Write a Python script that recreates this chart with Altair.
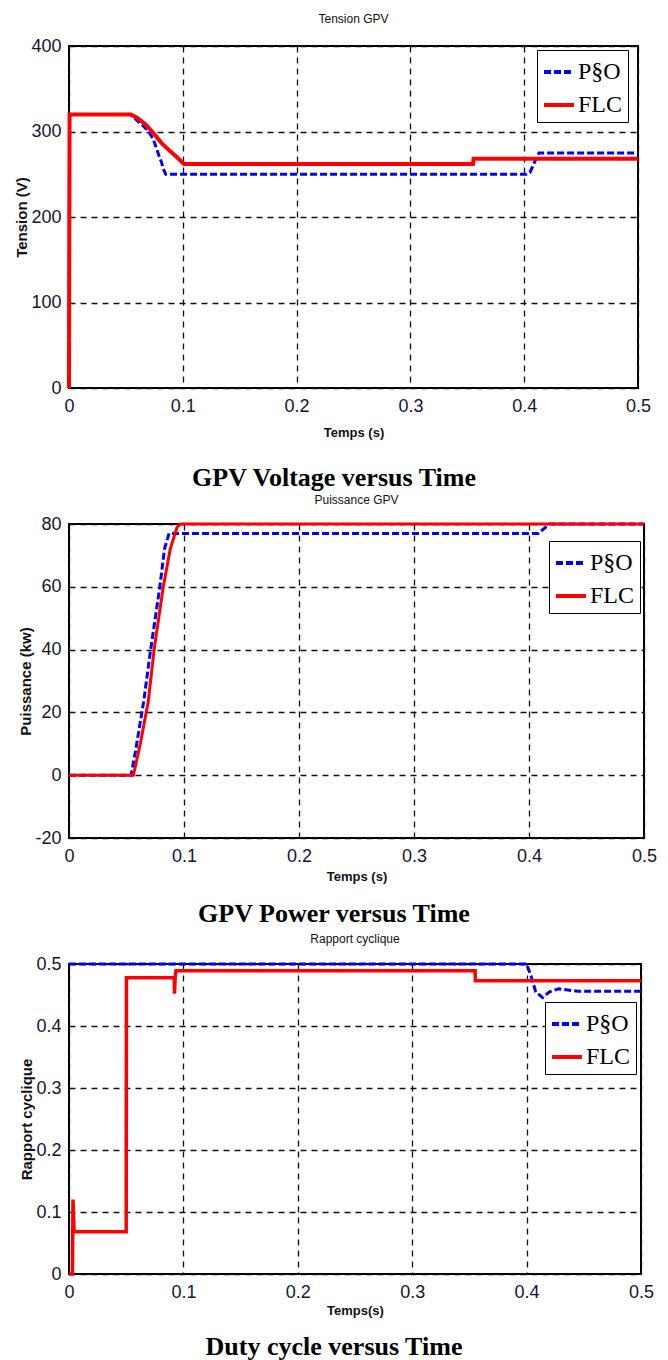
import altair as alt
import pandas as pd

SERIES = ["P§O", "FLC"]
COLORS = ["#0000ff", "#ff0000"]
X_TICKS = [0, 0.1, 0.2, 0.3, 0.4, 0.5]

# Panel 1 : Tension GPV
t1_po = [0, 0.0005, 0.054, 0.059, 0.064, 0.070, 0.074, 0.077, 0.079, 0.081, 0.083, 0.085, 0.402, 0.405, 0.409, 0.413, 0.5]
v1_po = [0, 320, 320, 314, 308, 300, 291, 280, 272, 265, 256, 250, 250, 252, 264, 275, 275]
t1_flc = [0, 0.0005, 0.054, 0.060, 0.0675, 0.075, 0.0816, 0.088, 0.094, 0.101, 0.355, 0.3555, 0.5]
v1_flc = [0, 320, 320, 316, 308, 297, 286, 278, 271, 262, 262, 268, 268]
y1_ticks = [0, 100, 200, 300, 400]

# Panel 2 : Puissance GPV
t2_po = [0, 0.054, 0.058, 0.065, 0.071, 0.079, 0.083, 0.087, 0.408, 0.413, 0.418, 0.5]
v2_po = [0, 0, 8, 23.6, 40, 60, 72, 77, 77, 78.5, 80, 80]
t2_flc = [0, 0.056, 0.062, 0.069, 0.074, 0.082, 0.088, 0.094, 0.097, 0.5]
v2_flc = [0, 0, 10, 23.6, 40, 60, 72, 79, 80, 80]
y2_ticks = [-20, 0, 20, 40, 60, 80]

# Panel 3 : Rapport cyclique
t3_po = [0, 0.400, 0.404, 0.408, 0.414, 0.420, 0.428, 0.445, 0.5]
v3_po = [0.5, 0.5, 0.48, 0.455, 0.446, 0.455, 0.46, 0.456, 0.456]
t3_flc = [0, 0.003, 0.0035, 0.0045, 0.05, 0.0502, 0.092, 0.0922, 0.0928, 0.0935, 0.355, 0.3552, 0.5]
v3_flc = [0, 0, 0.12, 0.068, 0.068, 0.478, 0.478, 0.452, 0.478, 0.489, 0.489, 0.473, 0.473]
y3_ticks = [0, 0.1, 0.2, 0.3, 0.4, 0.5]

SANS = "Liberation Sans"
SERIF = "Liberation Serif"
LABEL_EXPR = "'' + datum.value"


def panel(t_po, v_po, t_flc, v_flc, ydom, yticks, ytitle, xtitle, title, caption,
          w, h, lx, ly, red_w, cap_dy, xtitle_pad, title_off):
    df_po = pd.DataFrame({"t": t_po, "v": v_po, "series": SERIES[0]})
    df_flc = pd.DataFrame({"t": t_flc, "v": v_flc, "series": SERIES[1]})
    legend = alt.Legend(
        title=None, orient="none", legendX=lx, legendY=ly,
        fillColor="white", strokeColor="black", padding=5,
        labelFont=SERIF, labelFontSize=24, labelColor="#000",
        symbolType="stroke", symbolSize=900, symbolStrokeWidth=4,
        rowPadding=4, labelOffset=2,
    )
    x = alt.X("t:Q", scale=alt.Scale(domain=[0, 0.5], nice=False),
              axis=alt.Axis(values=X_TICKS, labelExpr=LABEL_EXPR, title=xtitle,
                            labelPadding=9, titlePadding=xtitle_pad, titleFontSize=13))
    y = alt.Y("v:Q", scale=alt.Scale(domain=ydom, nice=False),
              axis=alt.Axis(values=yticks, labelExpr=LABEL_EXPR, title=ytitle,
                            labelPadding=8, titlePadding=1, titleFontSize=15))
    color = alt.Color("series:N", scale=alt.Scale(domain=SERIES, range=COLORS), legend=legend)
    dash = alt.StrokeDash("series:N", scale=alt.Scale(domain=SERIES, range=[[7, 3], [1, 0]]),
                          legend=legend)
    blue = alt.Chart(df_po).mark_line(strokeWidth=3).encode(
        x=x, y=y, color=color, strokeDash=dash)
    red = alt.Chart(df_flc).mark_line(strokeWidth=red_w).encode(
        x=x, y=y, color=color, strokeDash=dash)
    cap = alt.Chart(pd.DataFrame({"c": [caption]})).mark_text(
        font=SERIF, fontSize=26, fontWeight="bold", baseline="middle", align="center",
        color="black").encode(x=alt.value(265), y=alt.value(h + cap_dy), text="c:N")
    return alt.layer(blue, red, cap).properties(
        width=w, height=h,
        title=alt.TitleParams(title, font=SANS, fontSize=12, fontWeight="normal",
                              color="#111", anchor="middle", offset=title_off),
    )


p1 = panel(t1_po, v1_po, t1_flc, v1_flc, [0, 400], y1_ticks, "Tension (V)", "Temps (s)",
           "Tension GPV", "GPV Voltage versus Time", 569, 342, 468, 4, 4, 90, 11, 11)
p2 = panel(t2_po, v2_po, t2_flc, v2_flc, [-20, 80], y2_ticks, "Puissance (kw)", "Temps (s)",
           "Puissance GPV", "GPV Power versus Time", 575, 314, 480, 17, 3, 76, 5, 8)
p3 = panel(t3_po, v3_po, t3_flc, v3_flc, [0, 0.5], y3_ticks, "Rapport cyclique", "Temps(s)",
           "Rapport cyclique", "Duty cycle versus Time", 572, 310, 476, 38, 3.5, 73, 3, 9)

top = alt.vconcat(p1, p2, spacing=1).resolve_scale(
    color="independent", strokeDash="independent"
).resolve_legend(color="independent", strokeDash="independent")

chart = alt.vconcat(top, p3, spacing=4).resolve_scale(
    color="independent", strokeDash="independent"
).resolve_legend(color="independent", strokeDash="independent").properties(
    padding={"left": 13, "top": 12, "right": 5, "bottom": 0},
    background="white",
).configure_view(stroke="black", strokeWidth=2).configure_axis(
    labelFont=SANS, labelFontSize=18, labelColor="#151530",
    titleFont=SANS, titleFontWeight="bold", titleColor="#111",
    ticks=False, domain=False, grid=True, gridColor="#111", gridDash=[6, 5],
    gridWidth=1.3, gridOpacity=1, labelFlush=False, labelOverlap=False,
)

chart.save("out.html", embed_options={"renderer": "svg", "actions": False})
